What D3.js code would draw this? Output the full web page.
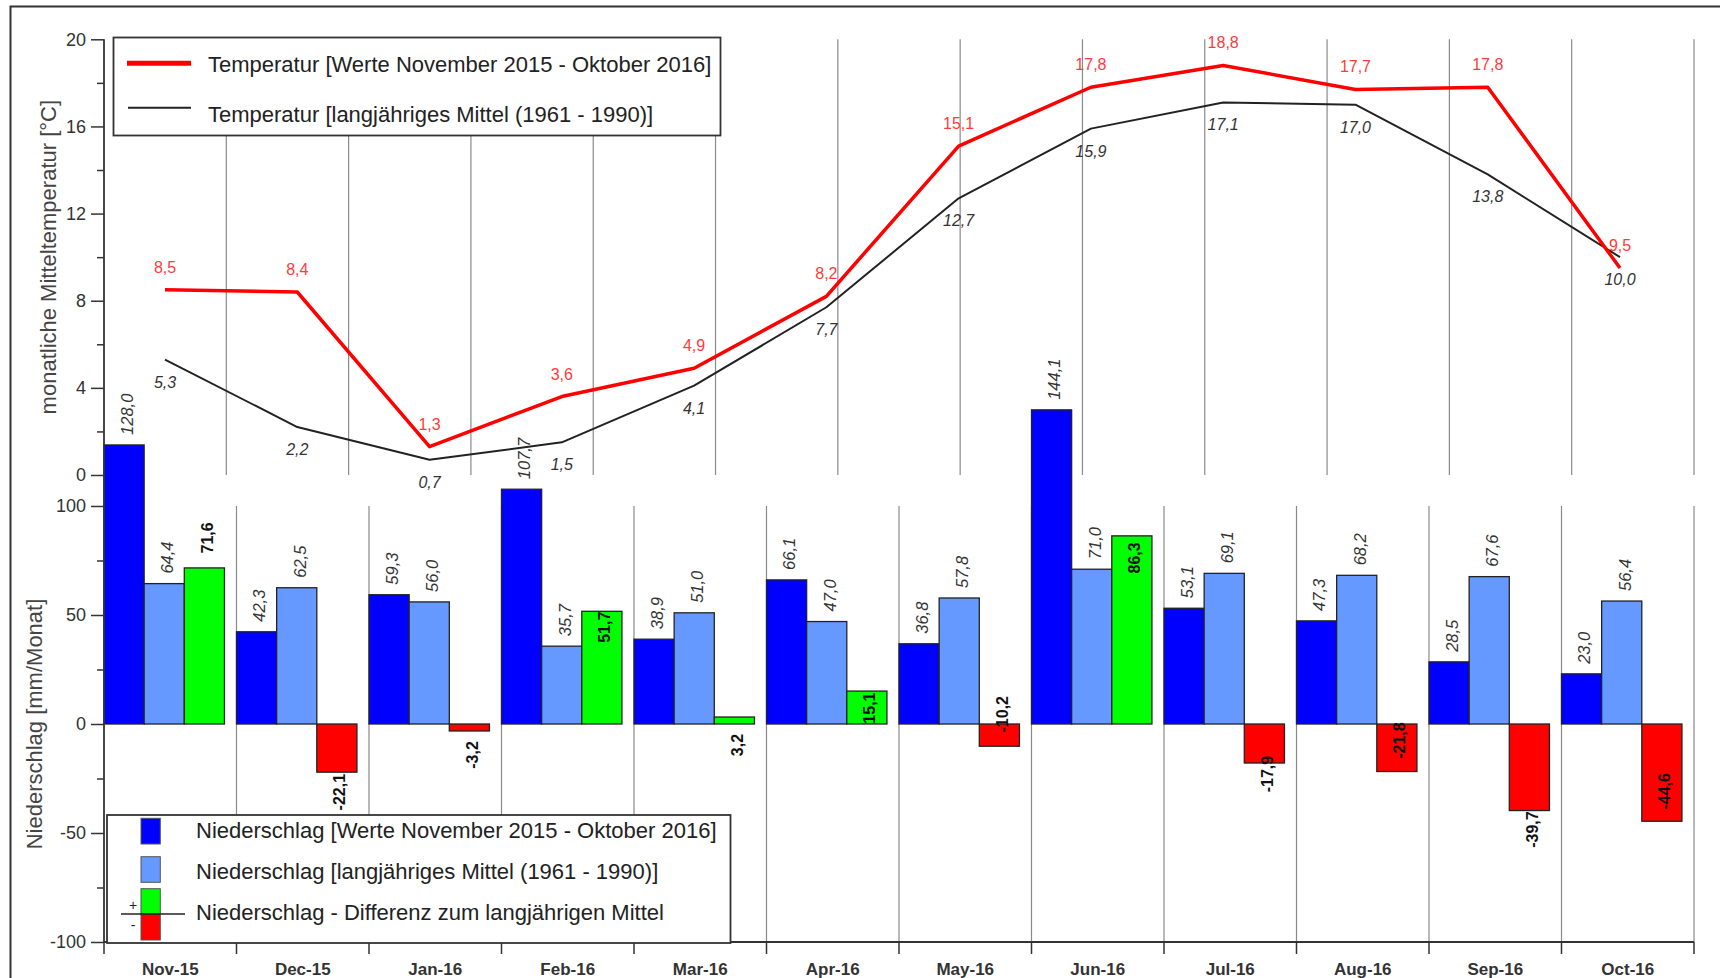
<!DOCTYPE html>
<html>
<head>
<meta charset="utf-8">
<script src="https://cdn.jsdelivr.net/npm/d3@7"></script>
<style>
  body { margin: 0; background: #fff; }
  svg { display: block; font-family: "Liberation Sans", Arial, sans-serif; }
</style>
</head>
<body>
<svg id="chart" width="1720" height="978"></svg>
<script>
// Monthly climate values, November 2015 - October 2016
const months = ["Nov-15", "Dec-15", "Jan-16", "Feb-16", "Mar-16", "Apr-16",
                "May-16", "Jun-16", "Jul-16", "Aug-16", "Sep-16", "Oct-16"];
const tempActual = [8.5, 8.4, 1.3, 3.6, 4.9, 8.2, 15.1, 17.8, 18.8, 17.7, 17.8, 9.5];
const tempMean   = [5.3, 2.2, 0.7, 1.5, 4.1, 7.7, 12.7, 15.9, 17.1, 17.0, 13.8, 10.0];
const precipActual = [128.0, 42.3, 59.3, 107.7, 38.9, 66.1, 36.8, 144.1, 53.1, 47.3, 28.5, 23.0];
const precipMean   = [64.4, 62.5, 56.0, 35.7, 51.0, 47.0, 57.8, 71.0, 69.1, 68.2, 67.6, 56.4];
const precipDiff   = [71.6, -22.1, -3.2, 51.7, 3.2, 15.1, -10.2, 86.3, -17.9, -21.8, -39.7, -44.6];

const tempTicks = [0, 4, 8, 12, 16, 20];
const tempMinorTicks = [2, 6, 10, 14, 18];
const precipTicks = [-100, -50, 0, 50, 100];
const precipMinorTicks = [-75, -25, 25, 75];

const legendTemp = ["Temperatur [Werte November 2015 - Oktober 2016]",
                    "Temperatur [langjähriges Mittel (1961 - 1990)]"];
const legendPrecip = ["Niederschlag [Werte November 2015 - Oktober 2016]",
                      "Niederschlag [langjähriges Mittel (1961 - 1990)]",
                      "Niederschlag - Differenz zum langjährigen Mittel"];

// ---- layout ----
const xLeft = 104, xRight = 1694;
const C = {
  blue: "#0000ff", light: "#6699ff", green: "#00ff00", red: "#ff0000",
  redText: "#ff3b3b", ink: "#333", grid: "#8a8a8a"
};
// vertical nudge (px) of each difference label centre relative to the bar end
const diffLabelShift = [-30, 20, 24, 16, 28, 17, -32, 22, 11, -31, 19, -30];

const de = d3.formatLocale({decimal: ",", thousands: ".", grouping: [3], currency: ["", " €"], minus: "-"});
const f1 = de.format(".1f");

const svg = d3.select("#chart");

const band = d3.scaleBand().domain(months).range([xLeft, xRight]);
const bw = band.bandwidth() * 0.303;
const xT = d3.scalePoint().domain(months).range([165, 1620]);
const yT = d3.scaleLinear().domain([0, 20]).range([475, 39.3]);
const yP = d3.scaleLinear().domain([-100, 100]).range([942, 506]);

// outer frame
svg.append("rect").attr("x", 10.5).attr("y", 6.5).attr("width", 1720).attr("height", 1000)
  .attr("fill", "none").attr("stroke", "#333").attr("stroke-width", 2);

// ---- grid ----
const grid = svg.append("g").attr("stroke", C.grid).attr("stroke-width", 1.2);
d3.range(1, 14).forEach(k => {
  const x = xLeft + k * (xRight - xLeft) / 13;
  grid.append("line").attr("x1", x).attr("x2", x).attr("y1", yT(20)).attr("y2", yT(0));
});
const bounds = months.slice(1).map(m => band(m)).concat([xRight]);
bounds.forEach(x => {
  grid.append("line").attr("x1", x).attr("x2", x).attr("y1", yP(100)).attr("y2", yP(-100));
});

// ---- precipitation bars ----
const rows = months.map((m, i) => ({m, i, a: precipActual[i], n: precipMean[i], d: precipDiff[i]}));
const bars = svg.append("g").attr("stroke", "#222").attr("stroke-width", 1.3);
function barRect(x, v, fill) {
  bars.append("rect").attr("x", x).attr("width", bw)
    .attr("y", yP(Math.max(0, v))).attr("height", Math.abs(yP(v) - yP(0)))
    .attr("fill", fill);
}
rows.forEach(r => {
  const x0 = band(r.m);
  barRect(x0, r.a, C.blue);
  barRect(x0 + bw, r.n, C.light);
  barRect(x0 + 2 * bw, r.d, r.d >= 0 ? C.green : C.red);
});

// value labels on bars (rotated)
const bl = svg.append("g").attr("fill", C.ink);
rows.forEach(r => {
  const x0 = band(r.m);
  [[r.a, 0], [r.n, 1]].forEach(([v, k]) => {
    const cx = x0 + (k + 0.5) * bw + 3;
    bl.append("text").attr("transform", `translate(${cx},${yP(v) - 10}) rotate(-90)`)
      .attr("dy", "0.35em").attr("font-style", "italic").attr("font-size", 16.5)
      .attr("text-anchor", "start").text(f1(v));
  });
  const cx = x0 + 2.5 * bw + 3;
  const cy = yP(r.d) + diffLabelShift[r.i];
  bl.append("text").attr("transform", `translate(${cx},${cy}) rotate(-90)`)
    .attr("dy", "0.35em").attr("font-weight", "bold").attr("font-size", 16)
    .attr("text-anchor", "middle").attr("fill", "#111").text(f1(r.d));
});

// ---- temperature lines ----
const line = d3.line().x((d, i) => xT(months[i])).y(d => yT(d));
svg.append("path").datum(tempMean).attr("d", line).attr("fill", "none")
  .attr("stroke", "#222").attr("stroke-width", 2).attr("stroke-linejoin", "round");
svg.append("path").datum(tempActual).attr("d", line).attr("fill", "none")
  .attr("stroke", C.red).attr("stroke-width", 3.5).attr("stroke-linejoin", "round");

const tl = svg.append("g").attr("font-size", 16).attr("text-anchor", "middle");
tempActual.forEach((v, i) => {
  tl.append("text").attr("x", xT(months[i])).attr("y", yT(v) - 17)
    .attr("fill", C.redText).text(f1(v));
});
tempMean.forEach((v, i) => {
  tl.append("text").attr("x", xT(months[i])).attr("y", yT(v) + 28)
    .attr("fill", C.ink).attr("font-style", "italic").text(f1(v));
});

// ---- axes ----
function styleAxis(g) {
  g.select(".domain").remove();
  g.selectAll("line").attr("stroke", "#333").attr("stroke-width", 1.5);
  g.selectAll("text").attr("fill", C.ink).attr("font-size", 18)
    .attr("font-family", "Liberation Sans, Arial, sans-serif");
}
const ax = svg.append("g").attr("transform", `translate(${xLeft},0)`);
ax.append("g").call(d3.axisLeft(yT).tickValues(tempTicks).tickSize(13).tickPadding(5).tickFormat(d => d)).call(styleAxis);
ax.append("g").call(d3.axisLeft(yT).tickValues(tempMinorTicks).tickSize(7).tickFormat("")).call(styleAxis);
ax.append("g").call(d3.axisLeft(yP).tickValues(precipTicks).tickSize(13).tickPadding(5).tickFormat(d => d)).call(styleAxis);
ax.append("g").call(d3.axisLeft(yP).tickValues(precipMinorTicks).tickSize(7).tickFormat("")).call(styleAxis);
svg.append("line").attr("x1", xLeft).attr("x2", xLeft).attr("y1", yT(20)).attr("y2", yP(-100))
  .attr("stroke", "#333").attr("stroke-width", 1.8);

// bottom axis: boundary ticks, month labels centred
const bx = svg.append("g").attr("transform", `translate(0,${yP(-100)})`);
bx.append("line").attr("x1", xLeft).attr("x2", xRight).attr("stroke", "#333").attr("stroke-width", 1.8);
[xLeft].concat(bounds).forEach(x => {
  bx.append("line").attr("x1", x).attr("x2", x).attr("y1", 0).attr("y2", 12)
    .attr("stroke", "#333").attr("stroke-width", 1.5);
});
bx.append("g").call(d3.axisBottom(band).tickSize(0).tickPadding(21))
  .call(g => g.select(".domain").remove())
  .call(g => g.selectAll("text").attr("fill", C.ink).attr("font-size", 17).attr("font-weight", "bold")
    .attr("font-family", "Liberation Sans, Arial, sans-serif"));

// axis titles
svg.append("text").attr("transform", `translate(56,${(yT(0) + yT(20)) / 2}) rotate(-90)`)
  .attr("text-anchor", "middle").attr("font-size", 22).attr("fill", "#444")
  .text("monatliche Mitteltemperatur [°C]");
svg.append("text").attr("transform", `translate(42,${yP(0)}) rotate(-90)`)
  .attr("text-anchor", "middle").attr("font-size", 22).attr("fill", "#444")
  .text("Niederschlag [mm/Monat]");

// ---- legend: temperature ----
const lg1 = svg.append("g");
lg1.append("rect").attr("x", 113.5).attr("y", 37.5).attr("width", 607).attr("height", 98)
  .attr("fill", "#fff").attr("stroke", "#333").attr("stroke-width", 1.8);
lg1.append("line").attr("x1", 127).attr("x2", 191).attr("y1", 63.3).attr("y2", 63.3)
  .attr("stroke", C.red).attr("stroke-width", 5);
lg1.append("line").attr("x1", 128).attr("x2", 191).attr("y1", 107.7).attr("y2", 107.7)
  .attr("stroke", "#222").attr("stroke-width", 2);
legendTemp.forEach((t, i) => {
  lg1.append("text").attr("x", 208).attr("y", [72, 121.7][i]).attr("font-size", 22)
    .attr("fill", "#222").text(t);
});

// ---- legend: precipitation ----
const lg2 = svg.append("g");
lg2.append("rect").attr("x", 107).attr("y", 815).attr("width", 623.5).attr("height", 128)
  .attr("fill", "#fff").attr("stroke", "#333").attr("stroke-width", 1.8);
const sw = [[C.blue, 818.3, 25.7], [C.light, 856.7, 25.6], [C.green, 888.7, 25.3], [C.red, 914, 26]];
sw.forEach(([fill, y, h]) => {
  lg2.append("rect").attr("x", 141).attr("y", y).attr("width", 19.3).attr("height", h)
    .attr("fill", fill).attr("stroke", "#555").attr("stroke-width", 1);
});
lg2.append("line").attr("x1", 121).attr("x2", 185).attr("y1", 914).attr("y2", 914)
  .attr("stroke", "#222").attr("stroke-width", 1.6);
lg2.append("text").attr("x", 133).attr("y", 910).attr("text-anchor", "middle")
  .attr("font-size", 14).attr("fill", "#222").text("+");
lg2.append("text").attr("x", 133).attr("y", 930).attr("text-anchor", "middle")
  .attr("font-size", 14).attr("fill", "#222").text("-");
legendPrecip.forEach((t, i) => {
  lg2.append("text").attr("x", 196).attr("y", [838.3, 879, 920][i]).attr("font-size", 22)
    .attr("fill", "#222").text(t);
});
</script>
</body>
</html>
